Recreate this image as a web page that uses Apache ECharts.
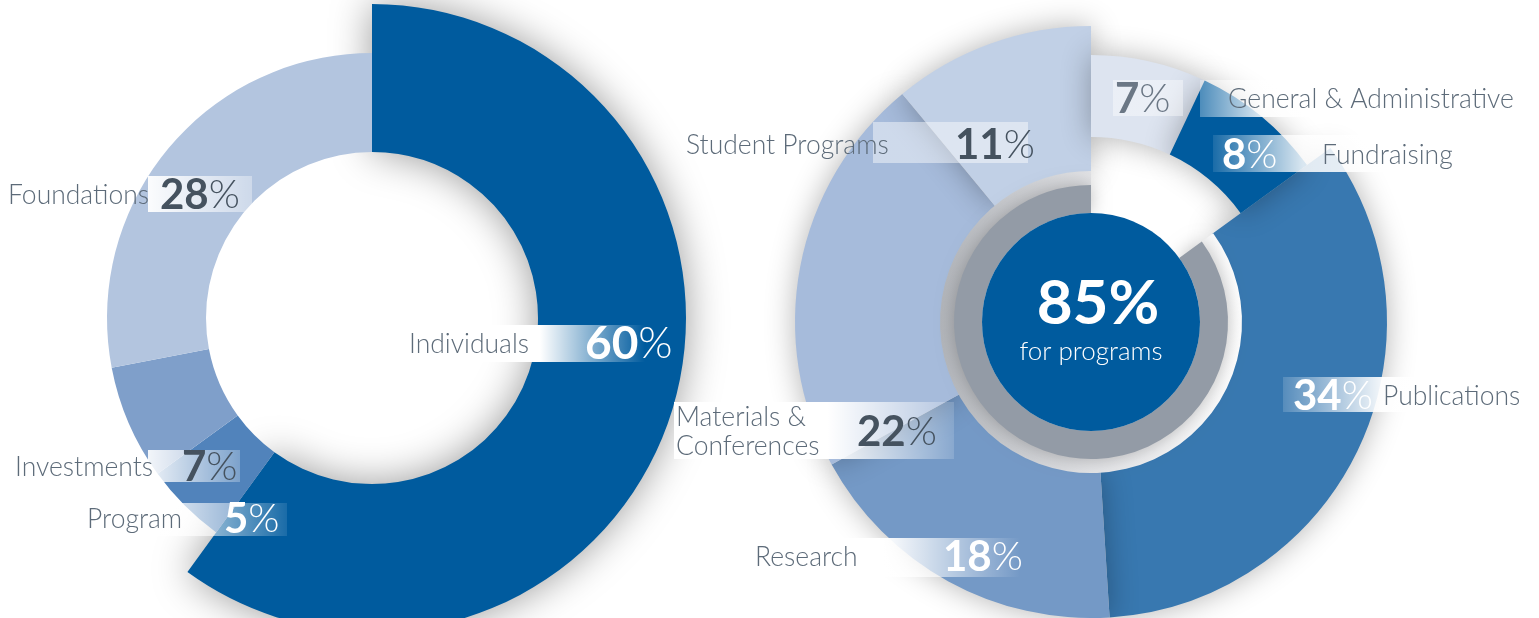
<!DOCTYPE html>
<html>
<head>
<meta charset="utf-8">
<title>Revenue and expenses</title>
<script src="https://cdn.jsdelivr.net/npm/echarts@6/dist/echarts.min.js"></script>
<style>
  html, body { margin: 0; padding: 0; background: #fff; }
  #chart { width: 1539px; height: 618px; }
</style>
</head>
<body>
<div id="chart"></div>
<script>
// revenue (left donut), clockwise from 12 o'clock
var revenueNames = ['Individuals', 'Program', 'Investments', 'Foundations'];
var revenueValues = [60, 5, 7, 28];

// expenses (right donut), clockwise from 12 o'clock
var expenseNames = ['General & Administrative', 'Fundraising', 'Publications', 'Research', 'Materials & Conferences', 'Student Programs'];
var expenseValues = [7, 8, 34, 18, 22, 11];
var expenseIsProgram = [false, false, true, true, true, true];

var FONT = 'Lato, "Noto Sans", sans-serif';
var NAME_COLOR = '#5d6b79';
var DARK = '#45525f';

var revenueColors = ['#005b9e', '#5183bb', '#7f9fca', '#b3c5df'];
var expenseColors = ['#dde4f0', '#005b9e', '#3878b0', '#7499c6', '#a6bbdb', '#c1d0e6'];

// label placement (layout only)
var revenueLabels = [
    { name: [409, 344], pct: [585, 344], pctColor: '#fff', size: 46 },
    { name: [87, 519], pct: [224, 519], pctColor: '#fff' },
    { name: [15, 467], pct: [182, 467], pctColor: DARK },
    { name: [8, 195], pct: [160, 195], pctColor: DARK }
];
var expenseLabels = [
    { name: [1228, 99], pct: [1115, 99], pctColor: '#6b7785' },
    { name: [1322, 155], pct: [1222, 155], pctColor: '#fff' },
    { name: [1383, 396], pct: [1293, 396], pctColor: '#fff' },
    { name: [755, 557], pct: [943, 557], pctColor: '#fff' },
    { name: [676, 432], pct: [857, 432], pctColor: DARK, wrap: true },
    { name: [686, 145], pct: [955, 145], pctColor: DARK }
];
// translucent label strips: x, y, w, h, [alpha stops]
var labelBoxes = [
    [148, 176, 104, 36, [[0, 0.95], [1, 0.35]]],
    [395, 325, 250, 37, [[0, 1], [0.58, 1], [1, 0]]],
    [148, 450, 92, 32, [[0, 0.9], [1, 0.25]]],
    [120, 503, 167, 33, [[0, 1], [0.4, 0.7], [1, 0.1]]],
    [873, 122, 155, 41, [[0, 0.45], [1, 0.45]]],
    [1113, 80, 70, 36, [[0, 0.4], [1, 0.4]]],
    [1200, 80, 330, 37, [[0, 0.3], [0.2, 0.9], [1, 0.9]]],
    [1213, 135, 200, 37, [[0, 0.1], [0.45, 0.85], [1, 0.9]]],
    [1283, 377, 250, 35, [[0, 0.15], [0.4, 0.95], [1, 0.8]]],
    [674, 402, 280, 57, [[0, 1], [0.55, 1], [1, 0.15]]],
    [745, 538, 275, 39, [[0, 1], [0.5, 1], [1, 0]]]
];

var programsTotal = 0;
expenseValues.forEach(function (v, i) { if (expenseIsProgram[i]) programsTotal += v; });

var dom = document.getElementById('chart');
var chart = echarts.init(dom);

var NONE = 'rgba(0,0,0,0)';

function pieSeries(center, radius, names, values, colorFor, shadow) {
    return {
        type: 'pie',
        center: center,
        radius: radius,
        startAngle: 90,
        clockwise: true,
        silent: true,
        animation: false,
        label: { show: false },
        labelLine: { show: false },
        emphasis: { disabled: true },
        data: values.map(function (v, i) {
            var c = colorFor(i);
            return {
                name: names[i],
                value: v,
                itemStyle: {
                    color: c,
                    borderWidth: 0,
                    shadowBlur: c === NONE ? 0 : shadow.blur,
                    shadowColor: shadow.color
                }
            };
        })
    };
}

function whiteStrip(b) {
    var stops = b[4].map(function (s) {
        return { offset: s[0], color: 'rgba(255,255,255,' + s[1] + ')' };
    });
    return {
        type: 'rect', z: 100,
        shape: { x: b[0], y: b[1], width: b[2], height: b[3] },
        style: { fill: new echarts.graphic.LinearGradient(0, 0, 1, 0, stops) }
    };
}

function nameText(pos, text, wrap) {
    return {
        type: 'text', z: 110, x: pos[0], y: pos[1],
        style: {
            text: wrap ? text.replace('& ', '&\n') : text,
            fontFamily: FONT, fontSize: 26.5, fontWeight: 300,
            lineHeight: 29,
            fill: NAME_COLOR, align: 'left', verticalAlign: 'middle'
        }
    };
}

function pctText(pos, value, color, size) {
    size = size || 42;
    return {
        type: 'text', z: 110, x: pos[0], y: pos[1],
        style: {
            text: '{n|' + value + '}{p|%}',
            align: 'left', verticalAlign: 'middle',
            rich: {
                n: { fontFamily: FONT, fontSize: size, fontWeight: 'bold', fill: color },
                p: { fontFamily: FONT, fontSize: size - 2, fontWeight: 300, fill: color }
            }
        }
    };
}

var graphics = labelBoxes.map(whiteStrip);
revenueNames.forEach(function (n, i) {
    var l = revenueLabels[i];
    graphics.push(nameText(l.name, n));
    graphics.push(pctText(l.pct, revenueValues[i], l.pctColor, l.size));
});
expenseNames.forEach(function (n, i) {
    var l = expenseLabels[i];
    graphics.push(nameText(l.name, n, l.wrap));
    graphics.push(pctText(l.pct, expenseValues[i], l.pctColor, l.size));
});

var L = [372, 318];
var R = [1091, 322];
var shadowL = { blur: 40, color: 'rgba(0,0,0,0.4)' };
var shadowR = { blur: 30, color: 'rgba(0,0,0,0.3)' };

var ringData = [100 - programsTotal, programsTotal];

var option = {
    backgroundColor: '#fff',
    animation: false,
    series: [
        // left donut: Individuals stands out further
        pieSeries(L, [166, 314], revenueNames, revenueValues, function (i) {
            return i === 0 ? revenueColors[i] : NONE;
        }, shadowL),
        pieSeries(L, [166, 265], revenueNames, revenueValues, function (i) {
            return i === 0 ? NONE : revenueColors[i];
        }, { blur: 0, color: NONE }),
        // right donut: program segments (wide) and support segments (narrow)
        pieSeries(R, [150, 296], expenseNames, expenseValues, function (i) {
            return expenseIsProgram[i] ? expenseColors[i] : NONE;
        }, shadowR),
        pieSeries(R, [185, 267], expenseNames, expenseValues, function (i) {
            return expenseIsProgram[i] ? NONE : expenseColors[i];
        }, shadowR),
        // halo round the grey ring
        {
            type: 'pie', center: R, radius: [136, 151], startAngle: 90, silent: true,
            label: { show: false }, labelLine: { show: false }, emphasis: { disabled: true },
            data: ringData.map(function (v, i) {
                return {
                    value: v,
                    itemStyle: {
                        color: i === 0 ? NONE : new echarts.graphic.LinearGradient(0, 0, 1, 0, [
                            { offset: 0, color: '#b3b6bb' },
                            { offset: 0.5, color: '#e2e3e6' },
                            { offset: 1, color: '#ffffff' }
                        ])
                    }
                };
            })
        },
        // grey 85% ring
        {
            type: 'pie', center: R, radius: [109, 137], startAngle: 90, silent: true,
            label: { show: false }, labelLine: { show: false }, emphasis: { disabled: true },
            data: ringData.map(function (v, i) {
                return {
                    value: v,
                    itemStyle: {
                        color: i === 0 ? NONE : '#939ba6',
                        shadowBlur: i === 0 ? 0 : 18,
                        shadowColor: 'rgba(0,0,0,0.25)'
                    }
                };
            })
        },
        // centre disc
        {
            type: 'pie', center: R, radius: [0, 109], silent: true,
            labelLine: { show: false }, emphasis: { disabled: true },
            label: {
                show: true, position: 'center',
                formatter: '{big|' + programsTotal + '%}\n{small|for programs}',
                rich: {
                    big: { fontFamily: FONT, fontSize: 62, fontWeight: 'bold', color: '#fff', lineHeight: 60, padding: [0, 0, 0, 14] },
                    small: { fontFamily: FONT, fontSize: 26, fontWeight: 300, color: '#fff', lineHeight: 36 }
                }
            },
            data: [{ value: programsTotal, name: 'for programs', itemStyle: { color: '#005b9e' } }]
        }
    ],
    graphic: { elements: graphics }
};

chart.setOption(option);

window.addEventListener('resize', function () {
    chart.resize();
});
</script>
</body>
</html>
